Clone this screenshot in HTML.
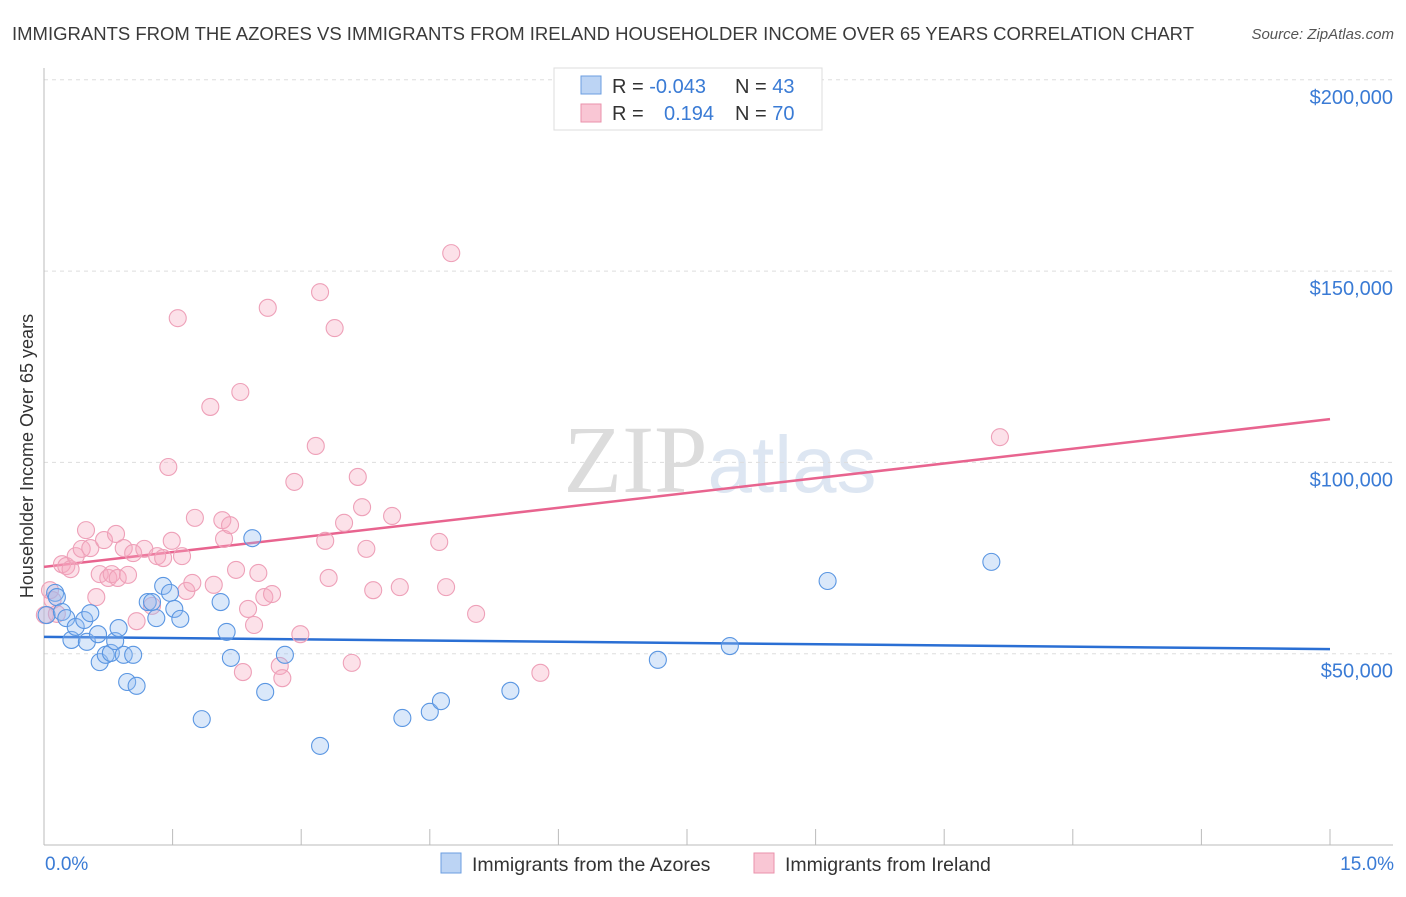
<!DOCTYPE html>
<html><head><meta charset="utf-8"><style>
body{margin:0;background:#fff;font-family:"Liberation Sans",sans-serif;}
svg text{font-family:"Liberation Sans",sans-serif;}
</style></head><body>
<svg id="chart" width="1406" height="892" xmlns="http://www.w3.org/2000/svg">
<text x="12" y="40" font-size="18" fill="#3a3a3a" textLength="1182" lengthAdjust="spacingAndGlyphs">IMMIGRANTS FROM THE AZORES VS IMMIGRANTS FROM IRELAND HOUSEHOLDER INCOME OVER 65 YEARS CORRELATION CHART</text>
<text x="1394" y="39" font-size="15" fill="#555" text-anchor="end" font-style="italic">Source: ZipAtlas.com</text>
<text x="720" y="492" font-size="96" fill="#e4e4e4" text-anchor="middle" font-family="Liberation Serif"><tspan font-family="Liberation Serif" fill="#dcdcdc">ZIP</tspan><tspan font-family="Liberation Sans" fill="#dde6f2" font-size="80">atlas</tspan></text>
<g id="grid"></g><g id="axes"></g><g id="trend"></g><g id="pts"></g>
<g>
<rect x="554" y="68" width="268" height="62" fill="#fff" stroke="#ddd"/>
<rect x="581" y="76" width="20" height="18" fill="#bcd4f4" stroke="#6b9ee0"/>
<rect x="581" y="104" width="20" height="18" fill="#f9c6d4" stroke="#ea92ab"/>
<text x="612" y="93" font-size="20" fill="#333">R = <tspan fill="#3a7bd5">-0.043</tspan></text>
<text x="735" y="93" font-size="20" fill="#333">N = <tspan fill="#3a7bd5">43</tspan></text>
<text x="612" y="120" font-size="20" fill="#333">R = </text><text x="664" y="120" font-size="20" fill="#3a7bd5">0.194</text>
<text x="735" y="120" font-size="20" fill="#333">N = <tspan fill="#3a7bd5">70</tspan></text>
</g>
<g>
<rect x="441" y="853" width="20" height="20" fill="#bcd4f4" stroke="#6b9ee0"/>
<text x="472" y="871" font-size="19.5" fill="#333">Immigrants from the Azores</text>
<rect x="754" y="853" width="20" height="20" fill="#f9c6d4" stroke="#ea92ab"/>
<text x="785" y="871" font-size="19.5" fill="#333">Immigrants from Ireland</text>
</g>
<text x="33" y="456" font-size="18" fill="#333" text-anchor="middle" transform="rotate(-90 33 456)">Householder Income Over 65 years</text>
<text x="45" y="870" font-size="19" fill="#3a7bd5">0.0%</text>
<text x="1394" y="870" font-size="19" fill="#3a7bd5" text-anchor="end">15.0%</text>
</svg>
<script>
const yTicks=[50,100,150,200];
const yTickLabels=["$50,000","$100,000","$150,000","$200,000"];
const xTicks=[0,1.5,3,4.5,6,7.5,9,10.5,12,13.5,15];
const azoresX=[0.03,0.13,0.15,0.21,0.26,0.32,0.37,0.47,0.50,0.54,0.63,0.65,0.72,0.78,0.83,0.87,0.93,0.97,1.04,1.08,1.21,1.26,1.31,1.39,1.47,1.52,1.59,1.84,2.06,2.13,2.18,2.43,2.58,2.81,3.22,4.18,4.50,4.63,5.44,7.16,8.00,9.14,11.05];
const azoresY=[60.1,65.9,64.8,60.9,59.3,53.6,57.0,58.8,53.1,60.6,55.1,47.8,49.7,50.2,53.3,56.7,49.7,42.6,49.7,41.6,63.5,63.5,59.3,67.7,65.9,61.7,59.1,32.9,63.5,55.7,48.9,80.2,40.0,49.7,25.9,33.2,34.8,37.6,40.3,48.4,52.0,69.0,74.0];
const irelandX=[0.01,0.07,0.10,0.15,0.21,0.26,0.31,0.37,0.44,0.49,0.54,0.61,0.65,0.70,0.75,0.79,0.84,0.86,0.93,0.98,1.04,1.08,1.17,1.26,1.32,1.39,1.45,1.49,1.56,1.61,1.66,1.73,1.76,1.94,1.98,2.08,2.10,2.17,2.24,2.29,2.38,2.32,2.45,2.50,2.57,2.61,2.66,2.75,2.78,2.92,2.99,3.17,3.22,3.28,3.32,3.39,3.50,3.59,3.66,3.71,3.76,3.84,4.06,4.15,4.61,4.69,4.75,5.04,5.79,11.15];
const irelandY=[60.1,66.6,64.0,60.4,73.4,72.9,72.1,75.5,77.4,82.3,77.6,64.8,70.8,79.7,69.8,70.8,81.3,69.8,77.6,70.6,76.3,58.5,77.4,62.5,75.5,75.0,98.8,79.5,137.7,75.5,66.4,68.5,85.5,114.5,68.0,84.9,80.0,83.6,71.9,118.4,61.7,45.2,57.5,71.1,64.8,140.4,65.6,46.8,43.6,94.9,55.1,104.3,144.5,79.5,69.8,135.1,84.2,47.6,96.2,88.3,77.4,66.6,86.0,67.4,79.2,67.4,154.7,60.4,45.0,106.6];
const azoresTrend=[54.4,51.2];
const irelandTrend=[72.7,111.3];
const NS="http://www.w3.org/2000/svg";
const xs=v=>44+v/15*1286;
const ys=v=>845-v/50*191.3;
function mk(tag,attrs,parent){const e=document.createElementNS(NS,tag);for(const k in attrs)e.setAttribute(k,attrs[k]);document.getElementById(parent).appendChild(e);return e;}
yTicks.forEach((t,i)=>{
  const l=mk('line',{x1:44,x2:1393,y1:ys(t),y2:ys(t),stroke:'#ddd','stroke-dasharray':'4,4'},'grid');
  
  
  const tx=mk('text',{x:1393,y:ys(t)+24,'font-size':20,fill:'#3a7bd5','text-anchor':'end'},'grid');
  tx.textContent=yTickLabels[i];
  
  
});
const ax=mk('line',{x1:44,x2:1393,y1:845,y2:845,stroke:'#bbb'},'axes');


const ay=mk('line',{x1:44,x2:44,y1:68,y2:845,stroke:'#bbb'},'axes');


xTicks.forEach(t=>{
  const l=mk('line',{x1:xs(t),x2:xs(t),y1:829,y2:845,stroke:'#bbb'},'axes');
  
  
});
function pts(X,Y,fill,stroke,name){
  X.forEach((x,i)=>{
    const c=mk('circle',{cx:xs(x),cy:ys(Y[i]),r:8.5,fill:fill,stroke:stroke,'stroke-width':1.1},'pts');
    
    
  });
}
pts(irelandX,irelandY,'rgba(246,168,192,0.35)','#eea0b8','point-ireland');
pts(azoresX,azoresY,'rgba(150,190,240,0.35)','#5a96e2','point-azores');
const t1=mk('line',{x1:xs(0),x2:xs(15),y1:ys(irelandTrend[0]),y2:ys(irelandTrend[1]),stroke:'#e8648f','stroke-width':2.5},'trend');


const t2=mk('line',{x1:xs(0),x2:xs(15),y1:ys(azoresTrend[0]),y2:ys(azoresTrend[1]),stroke:'#2a6fd4','stroke-width':2.5},'trend');


</script>
</body></html>
